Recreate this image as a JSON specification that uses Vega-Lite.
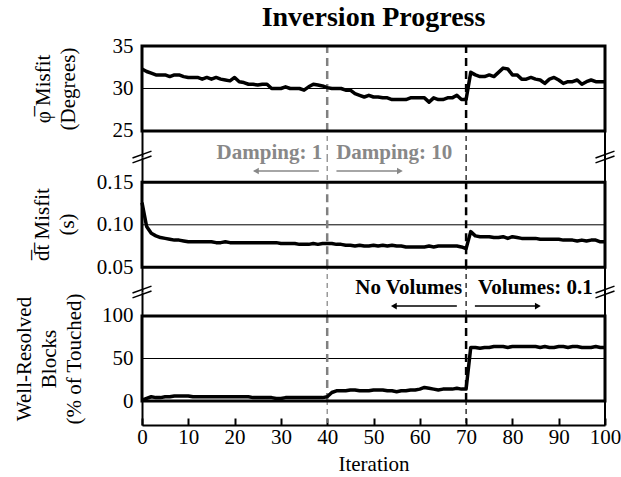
{
  "$schema": "https://vega.github.io/schema/vega-lite/v6.json",
  "padding": {"left": 12, "top": 4, "right": 2, "bottom": 5},
  "title": {"text": "Inversion Progress", "font": "Liberation Serif", "fontSize": 28, "fontWeight": "bold", "color": "#000000", "anchor": "middle", "frame": "group", "offset": 3},
  "datasets": {
    "progress": [
      {"iter":0,"phi":32.3,"dt":0.126,"blocks":1},{"iter":1,"phi":32.0,"dt":0.098,"blocks":3},{"iter":2,"phi":31.8,"dt":0.090,"blocks":5},{"iter":3,"phi":31.6,"dt":0.087,"blocks":4},{"iter":4,"phi":31.6,"dt":0.085,"blocks":4},
      {"iter":5,"phi":31.6,"dt":0.084,"blocks":5},{"iter":6,"phi":31.4,"dt":0.083,"blocks":5},{"iter":7,"phi":31.6,"dt":0.082,"blocks":6},{"iter":8,"phi":31.6,"dt":0.082,"blocks":6},{"iter":9,"phi":31.4,"dt":0.081,"blocks":6},
      {"iter":10,"phi":31.3,"dt":0.080,"blocks":6},{"iter":11,"phi":31.3,"dt":0.080,"blocks":5},{"iter":12,"phi":31.3,"dt":0.080,"blocks":5},{"iter":13,"phi":31.1,"dt":0.080,"blocks":5},{"iter":14,"phi":31.3,"dt":0.080,"blocks":5},
      {"iter":15,"phi":31.1,"dt":0.080,"blocks":5},{"iter":16,"phi":31.3,"dt":0.079,"blocks":5},{"iter":17,"phi":31.1,"dt":0.079,"blocks":5},{"iter":18,"phi":31.0,"dt":0.080,"blocks":5},{"iter":19,"phi":30.9,"dt":0.079,"blocks":5},
      {"iter":20,"phi":31.3,"dt":0.079,"blocks":5},{"iter":21,"phi":30.8,"dt":0.079,"blocks":5},{"iter":22,"phi":30.7,"dt":0.079,"blocks":5},{"iter":23,"phi":30.5,"dt":0.079,"blocks":5},{"iter":24,"phi":30.5,"dt":0.079,"blocks":4},
      {"iter":25,"phi":30.4,"dt":0.079,"blocks":4},{"iter":26,"phi":30.5,"dt":0.079,"blocks":4},{"iter":27,"phi":30.5,"dt":0.079,"blocks":4},{"iter":28,"phi":30.0,"dt":0.079,"blocks":4},{"iter":29,"phi":30.0,"dt":0.079,"blocks":3},
      {"iter":30,"phi":30.0,"dt":0.078,"blocks":3},{"iter":31,"phi":30.2,"dt":0.078,"blocks":4},{"iter":32,"phi":30.0,"dt":0.078,"blocks":4},{"iter":33,"phi":30.0,"dt":0.078,"blocks":4},{"iter":34,"phi":30.0,"dt":0.077,"blocks":4},
      {"iter":35,"phi":29.8,"dt":0.077,"blocks":4},{"iter":36,"phi":30.2,"dt":0.077,"blocks":4},{"iter":37,"phi":30.5,"dt":0.078,"blocks":4},{"iter":38,"phi":30.4,"dt":0.077,"blocks":4},{"iter":39,"phi":30.3,"dt":0.078,"blocks":4},
      {"iter":40,"phi":30.1,"dt":0.078,"blocks":5},{"iter":41,"phi":30.0,"dt":0.078,"blocks":10},{"iter":42,"phi":30.0,"dt":0.077,"blocks":12},{"iter":43,"phi":30.0,"dt":0.077,"blocks":12},{"iter":44,"phi":29.8,"dt":0.076,"blocks":12},
      {"iter":45,"phi":29.8,"dt":0.076,"blocks":13},{"iter":46,"phi":29.4,"dt":0.075,"blocks":13},{"iter":47,"phi":29.2,"dt":0.076,"blocks":12},{"iter":48,"phi":29.0,"dt":0.075,"blocks":12},{"iter":49,"phi":29.2,"dt":0.075,"blocks":12},
      {"iter":50,"phi":29.0,"dt":0.076,"blocks":13},{"iter":51,"phi":29.0,"dt":0.075,"blocks":13},{"iter":52,"phi":28.9,"dt":0.076,"blocks":13},{"iter":53,"phi":28.9,"dt":0.075,"blocks":12},{"iter":54,"phi":28.7,"dt":0.076,"blocks":12},
      {"iter":55,"phi":28.7,"dt":0.075,"blocks":11},{"iter":56,"phi":28.7,"dt":0.075,"blocks":12},{"iter":57,"phi":28.7,"dt":0.074,"blocks":12},{"iter":58,"phi":28.9,"dt":0.074,"blocks":13},{"iter":59,"phi":28.9,"dt":0.074,"blocks":13},
      {"iter":60,"phi":28.9,"dt":0.074,"blocks":14},{"iter":61,"phi":28.9,"dt":0.074,"blocks":16},{"iter":62,"phi":28.4,"dt":0.075,"blocks":15},{"iter":63,"phi":28.9,"dt":0.074,"blocks":14},{"iter":64,"phi":28.7,"dt":0.075,"blocks":13},
      {"iter":65,"phi":28.7,"dt":0.075,"blocks":14},{"iter":66,"phi":28.9,"dt":0.075,"blocks":14},{"iter":67,"phi":28.9,"dt":0.075,"blocks":14},{"iter":68,"phi":29.2,"dt":0.075,"blocks":15},{"iter":69,"phi":28.7,"dt":0.074,"blocks":14},
      {"iter":70,"phi":28.7,"dt":0.072,"blocks":14},{"iter":71,"phi":31.9,"dt":0.092,"blocks":63},{"iter":72,"phi":31.6,"dt":0.087,"blocks":63},{"iter":73,"phi":31.4,"dt":0.086,"blocks":62},{"iter":74,"phi":31.4,"dt":0.086,"blocks":63},
      {"iter":75,"phi":31.6,"dt":0.086,"blocks":63},{"iter":76,"phi":31.4,"dt":0.085,"blocks":64},{"iter":77,"phi":31.9,"dt":0.085,"blocks":64},{"iter":78,"phi":32.4,"dt":0.086,"blocks":64},{"iter":79,"phi":32.3,"dt":0.084,"blocks":63},
      {"iter":80,"phi":31.6,"dt":0.086,"blocks":64},{"iter":81,"phi":31.6,"dt":0.085,"blocks":64},{"iter":82,"phi":31.1,"dt":0.084,"blocks":64},{"iter":83,"phi":31.1,"dt":0.084,"blocks":64},{"iter":84,"phi":31.3,"dt":0.084,"blocks":64},
      {"iter":85,"phi":31.1,"dt":0.084,"blocks":64},{"iter":86,"phi":31.0,"dt":0.083,"blocks":63},{"iter":87,"phi":30.6,"dt":0.083,"blocks":64},{"iter":88,"phi":31.1,"dt":0.083,"blocks":63},{"iter":89,"phi":31.3,"dt":0.083,"blocks":63},
      {"iter":90,"phi":31.0,"dt":0.083,"blocks":64},{"iter":91,"phi":30.6,"dt":0.082,"blocks":64},{"iter":92,"phi":30.8,"dt":0.082,"blocks":63},{"iter":93,"phi":30.8,"dt":0.082,"blocks":64},{"iter":94,"phi":31.0,"dt":0.081,"blocks":64},
      {"iter":95,"phi":30.5,"dt":0.082,"blocks":63},{"iter":96,"phi":30.8,"dt":0.081,"blocks":63},{"iter":97,"phi":31.0,"dt":0.082,"blocks":63},{"iter":98,"phi":30.8,"dt":0.082,"blocks":64},{"iter":99,"phi":30.8,"dt":0.080,"blocks":63},
      {"iter":100,"phi":30.8,"dt":0.080,"blocks":63}
    ],
    "events": [{"iter": 40, "kind": "Damping"}, {"iter": 70, "kind": "Volumes"}],
    "edges": [{"iter": 0}, {"iter": 100}],
    "one": [{"k": 1}]
  },
  "bounds": "flush",
  "spacing": 0,
  "vconcat": [
    {
      "width": 463, "height": 111,
      "resolve": {"axis": {"x": "independent", "y": "independent"}},
      "layer": [
        {"data": {"name": "events"}, "mark": {"type": "rule", "strokeWidth": 1.2, "strokeDash": [5, 4]},
         "encoding": {"x": {"field": "iter", "type": "quantitative", "scale": {"domain": [0, 100], "nice": false}, "axis": null},
                      "color": {"field": "kind", "type": "nominal", "scale": {"domain": ["Damping", "Volumes"], "range": ["#808080", "#000000"]}, "legend": null}}},
        {"data": {"name": "one"}, "mark": {"type": "rect", "fill": "white"},
         "encoding": {"x": {"datum": 0, "axis": null}, "x2": {"datum": 100}, "y": {"datum": 25, "axis": null}, "y2": {"datum": 35}}},
        {"data": {"name": "one"}, "mark": {"type": "rule", "color": "black", "strokeWidth": 1},
         "encoding": {"x": {"datum": 0, "axis": null}, "x2": {"datum": 100}, "y": {"datum": 30, "axis": null}}},
        {"data": {"name": "events"}, "mark": {"type": "rule", "strokeWidth": 2.5, "strokeDash": [8, 5]},
         "encoding": {"x": {"field": "iter", "type": "quantitative", "axis": null}, "y": {"datum": 25, "axis": null}, "y2": {"datum": 35},
                      "color": {"field": "kind", "type": "nominal", "scale": {"domain": ["Damping", "Volumes"], "range": ["#808080", "#000000"]}, "legend": null}}},
        {"data": {"name": "progress"}, "mark": {"type": "line", "color": "black", "strokeWidth": 3.5, "strokeJoin": "round"},
         "encoding": {"x": {"field": "iter", "type": "quantitative", "scale": {"domain": [0, 100], "nice": false}, "axis": null},
                      "y": {"field": "phi", "type": "quantitative", "scale": {"domain": [21.94, 35], "nice": false, "zero": false},
                            "axis": {"values": [25, 30, 35], "title": ["\u03c6\u0305 Misfit", "(Degrees)"], "titleX": -99, "titleY": 42.5}}}},
        {"data": {"name": "one"}, "mark": {"type": "rect", "fillOpacity": 0, "stroke": "black", "strokeWidth": 3},
         "encoding": {"x": {"datum": 0, "axis": null}, "x2": {"datum": 100}, "y": {"datum": 25, "axis": null}, "y2": {"datum": 35}}},
        {"data": {"name": "one"}, "mark": {"type": "rule", "color": "black", "strokeWidth": 2},
         "encoding": {"x": {"datum": 100, "axis": null}}},
        {"data": {"name": "edges"}, "mark": {"type": "point", "shape": "M -1 0.1 L 1 -0.62 M -1 0.62 L 1 -0.1", "size": 361, "filled": false, "color": "black", "strokeWidth": 1.5, "opacity": 1},
         "encoding": {"x": {"field": "iter", "type": "quantitative", "axis": null}, "y": {"datum": 21.94, "axis": null}}},
        {"data": {"values": [{"iter": 40, "note": "Damping: 1"}]}, "mark": {"type": "text", "align": "right", "baseline": "middle", "dx": -5, "font": "Liberation Serif", "fontSize": 21, "fontWeight": "bold", "color": "#888888"},
         "encoding": {"x": {"field": "iter", "type": "quantitative", "axis": null}, "y": {"datum": 22.41, "axis": null}, "text": {"field": "note", "type": "nominal"}}},
        {"data": {"values": [{"iter": 40, "note": "Damping: 10"}]}, "mark": {"type": "text", "align": "left", "baseline": "middle", "dx": 9, "font": "Liberation Serif", "fontSize": 21, "fontWeight": "bold", "color": "#888888"},
         "encoding": {"x": {"field": "iter", "type": "quantitative", "axis": null}, "y": {"datum": 22.41, "axis": null}, "text": {"field": "note", "type": "nominal"}}}
      ]
    },
    {
      "width": 463, "height": 135,
      "resolve": {"axis": {"x": "independent", "y": "independent"}},
      "layer": [
        {"data": {"name": "events"}, "mark": {"type": "rule", "strokeWidth": 1.2, "strokeDash": [5, 4]},
         "encoding": {"x": {"field": "iter", "type": "quantitative", "scale": {"domain": [0, 100], "nice": false}, "axis": null},
                      "color": {"field": "kind", "type": "nominal", "scale": {"domain": ["Damping", "Volumes"], "range": ["#808080", "#000000"]}, "legend": null}}},
        {"data": {"name": "one"}, "mark": {"type": "rect", "fill": "white"},
         "encoding": {"x": {"datum": 0, "axis": null}, "x2": {"datum": 100}, "y": {"datum": 0.05, "axis": null}, "y2": {"datum": 0.15}}},
        {"data": {"name": "one"}, "mark": {"type": "rule", "color": "black", "strokeWidth": 1},
         "encoding": {"x": {"datum": 0, "axis": null}, "x2": {"datum": 100}, "y": {"datum": 0.1, "axis": null}}},
        {"data": {"name": "events"}, "mark": {"type": "rule", "strokeWidth": 2.5, "strokeDash": [8, 5]},
         "encoding": {"x": {"field": "iter", "type": "quantitative", "axis": null}, "y": {"datum": 0.05, "axis": null}, "y2": {"datum": 0.15},
                      "color": {"field": "kind", "type": "nominal", "scale": {"domain": ["Damping", "Volumes"], "range": ["#808080", "#000000"]}, "legend": null}}},
        {"data": {"name": "progress"}, "mark": {"type": "line", "color": "black", "strokeWidth": 3.5, "strokeJoin": "round"},
         "encoding": {"x": {"field": "iter", "type": "quantitative", "scale": {"domain": [0, 100], "nice": false}, "axis": null},
                      "y": {"field": "dt", "type": "quantitative", "scale": {"domain": [0.02095, 0.17976], "nice": false, "zero": false},
                            "axis": {"values": [0.05, 0.1, 0.15], "format": ".2f", "title": ["d\u0305t\u0305 Misfit", "(s)"], "titleX": -100, "titleY": 67}}}},
        {"data": {"name": "one"}, "mark": {"type": "rect", "fillOpacity": 0, "stroke": "black", "strokeWidth": 3},
         "encoding": {"x": {"datum": 0, "axis": null}, "x2": {"datum": 100}, "y": {"datum": 0.05, "axis": null}, "y2": {"datum": 0.15}}},
        {"data": {"name": "one"}, "mark": {"type": "rule", "color": "black", "strokeWidth": 2},
         "encoding": {"x": {"datum": 100, "axis": null}}},
        {"data": {"name": "edges"}, "mark": {"type": "point", "shape": "M -1 0.1 L 1 -0.62 M -1 0.62 L 1 -0.1", "size": 361, "filled": false, "color": "black", "strokeWidth": 1.5, "opacity": 1},
         "encoding": {"x": {"field": "iter", "type": "quantitative", "axis": null}, "y": {"datum": 0.02095, "axis": null}}},
        {"data": {"values": [{"start": 38.2, "end": 24.6, "dir": "left"}, {"start": 42, "end": 55.7, "dir": "right"}]},
         "mark": {"type": "rule", "color": "#888888", "strokeWidth": 1.5},
         "encoding": {"x": {"field": "start", "type": "quantitative", "axis": null}, "x2": {"field": "end"}, "y": {"datum": 0.1633, "axis": null}}},
        {"data": {"values": [{"start": 38.2, "end": 24.6, "dir": "left"}, {"start": 42, "end": 55.7, "dir": "right"}]},
         "mark": {"type": "point", "filled": true, "color": "#888888", "size": 45, "opacity": 1},
         "encoding": {"x": {"field": "end", "type": "quantitative", "axis": null}, "y": {"datum": 0.1633, "axis": null},
                      "shape": {"field": "dir", "type": "nominal", "scale": {"domain": ["left", "right"], "range": ["triangle-left", "triangle-right"]}, "legend": null}}},
        {"data": {"values": [{"iter": 70, "note": "No Volumes"}]}, "mark": {"type": "text", "align": "right", "baseline": "middle", "dx": -4, "font": "Liberation Serif", "fontSize": 21, "fontWeight": "bold", "color": "#000000"},
         "encoding": {"x": {"field": "iter", "type": "quantitative", "axis": null}, "y": {"datum": 0.0257, "axis": null}, "text": {"field": "note", "type": "nominal"}}},
        {"data": {"values": [{"iter": 70, "note": "Volumes: 0.1"}]}, "mark": {"type": "text", "align": "left", "baseline": "middle", "dx": 12, "font": "Liberation Serif", "fontSize": 21, "fontWeight": "bold", "color": "#000000"},
         "encoding": {"x": {"field": "iter", "type": "quantitative", "axis": null}, "y": {"datum": 0.0257, "axis": null}, "text": {"field": "note", "type": "nominal"}}}
      ]
    },
    {
      "width": 463, "height": 133,
      "resolve": {"axis": {"x": "independent", "y": "independent"}},
      "layer": [
        {"data": {"name": "events"}, "mark": {"type": "rule", "strokeWidth": 1.2, "strokeDash": [5, 4]},
         "encoding": {"x": {"field": "iter", "type": "quantitative", "scale": {"domain": [0, 100], "nice": false},
                            "axis": {"values": [0, 10, 20, 30, 40, 50, 60, 70, 80, 90, 100], "title": "Iteration"}},
                      "color": {"field": "kind", "type": "nominal", "scale": {"domain": ["Damping", "Volumes"], "range": ["#808080", "#000000"]}, "legend": null}}},
        {"data": {"name": "one"}, "mark": {"type": "rect", "fill": "white"},
         "encoding": {"x": {"datum": 0, "axis": null}, "x2": {"datum": 100}, "y": {"datum": 0, "axis": null}, "y2": {"datum": 100}}},
        {"data": {"name": "one"}, "mark": {"type": "rule", "color": "black", "strokeWidth": 1},
         "encoding": {"x": {"datum": 0, "axis": null}, "x2": {"datum": 100}, "y": {"datum": 50, "axis": null}}},
        {"data": {"name": "events"}, "mark": {"type": "rule", "strokeWidth": 2.5, "strokeDash": [8, 5]},
         "encoding": {"x": {"field": "iter", "type": "quantitative", "axis": null}, "y": {"datum": 0, "axis": null}, "y2": {"datum": 100},
                      "color": {"field": "kind", "type": "nominal", "scale": {"domain": ["Damping", "Volumes"], "range": ["#808080", "#000000"]}, "legend": null}}},
        {"data": {"name": "progress"}, "mark": {"type": "line", "color": "black", "strokeWidth": 3.5, "strokeJoin": "round"},
         "encoding": {"x": {"field": "iter", "type": "quantitative", "scale": {"domain": [0, 100], "nice": false}, "axis": null},
                      "y": {"field": "blocks", "type": "quantitative", "scale": {"domain": [-28.2, 128.2], "nice": false, "zero": false},
                            "axis": {"values": [0, 50, 100], "title": ["Well-Resolved", "Blocks", "(% of Touched)"], "titleX": -118, "titleY": 66.5}}}},
        {"data": {"name": "one"}, "mark": {"type": "rect", "fillOpacity": 0, "stroke": "black", "strokeWidth": 3},
         "encoding": {"x": {"datum": 0, "axis": null}, "x2": {"datum": 100}, "y": {"datum": 0, "axis": null}, "y2": {"datum": 100}}},
        {"data": {"name": "one"}, "mark": {"type": "rule", "color": "black", "strokeWidth": 2},
         "encoding": {"x": {"datum": 100, "axis": null}}},
        {"data": {"values": [{"start": 68, "end": 54.4, "dir": "left"}, {"start": 71.9, "end": 85.5, "dir": "right"}]},
         "mark": {"type": "rule", "color": "#000000", "strokeWidth": 1.5},
         "encoding": {"x": {"field": "start", "type": "quantitative", "axis": null}, "x2": {"field": "end"}, "y": {"datum": 111.7, "axis": null}}},
        {"data": {"values": [{"start": 68, "end": 54.4, "dir": "left"}, {"start": 71.9, "end": 85.5, "dir": "right"}]},
         "mark": {"type": "point", "filled": true, "color": "#000000", "size": 45, "opacity": 1},
         "encoding": {"x": {"field": "end", "type": "quantitative", "axis": null}, "y": {"datum": 111.7, "axis": null},
                      "shape": {"field": "dir", "type": "nominal", "scale": {"domain": ["left", "right"], "range": ["triangle-left", "triangle-right"]}, "legend": null}}}
      ]
    }
  ],
  "config": {
    "font": "Liberation Serif",
    "view": {"stroke": null},
    "axis": {"labelFont": "Liberation Serif", "titleFont": "Liberation Serif", "labelFontSize": 21, "titleFontSize": 21,
             "labelColor": "#000000", "titleColor": "#000000", "titleFontWeight": "normal", "domainColor": "#000000",
             "tickColor": "#000000", "grid": false, "labelFlush": false},
    "axisY": {"ticks": false, "domainWidth": 2, "labelPadding": 9, "labelBaseline": "middle", "titleAlign": "center", "titleBaseline": "middle", "titleLineHeight": 25, "titleAngle": 270},
    "axisX": {"domainWidth": 2, "tickWidth": 2, "tickSize": -7, "labelPadding": 8, "titlePadding": 6}
  }
}
